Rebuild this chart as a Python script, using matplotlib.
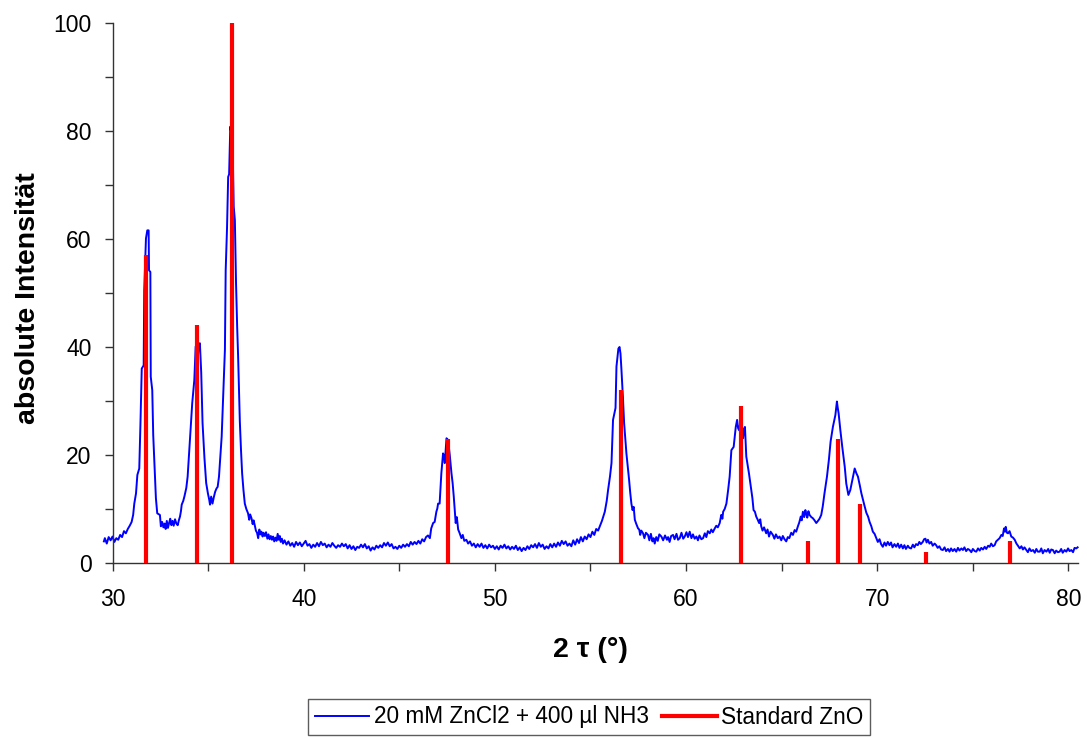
import matplotlib
matplotlib.use("Agg")
import matplotlib.pyplot as plt
from matplotlib.ticker import MultipleLocator

plt.rcParams['font.family'] = ['Liberation Sans', 'DejaVu Sans']

scan_30_39 = [
    (29.55, 4.0), (29.6, 4.6), (29.7, 3.6), (29.8, 4.8), (29.9, 4.2), (30.0, 4.9), (30.1, 3.9),
    (30.2, 4.6), (30.3, 4.3), (30.4, 5.2), (30.5, 4.8), (30.6, 5.9), (30.7, 5.5), (30.8, 6.3),
    (30.9, 6.9), (31.0, 7.6), (31.08, 8.9), (31.14, 11.0), (31.23, 12.9), (31.30, 16.3),
    (31.40, 17.5), (31.46, 25.5), (31.53, 36.0), (31.63, 36.6), (31.66, 50.5), (31.75, 60.1),
    (31.82, 61.6), (31.89, 61.6), (31.91, 54.2), (31.98, 53.9), (32.0, 34.5), (32.08, 32.0),
    (32.13, 23.7), (32.22, 16.0), (32.27, 12.0), (32.34, 9.2), (32.48, 8.9), (32.53, 6.8),
    (32.6, 7.6), (32.66, 6.6), (32.72, 7.3), (32.78, 6.3), (32.84, 7.8), (32.9, 6.5),
    (32.96, 7.4), (33.02, 8.2), (33.08, 7.0), (33.14, 7.8), (33.2, 6.9), (33.27, 8.1),
    (33.34, 7.3), (33.41, 7.0), (33.47, 7.9), (33.53, 8.6), (33.58, 9.6), (33.62, 10.8),
    (33.7, 11.5), (33.76, 12.3), (33.86, 13.9), (33.93, 16.0), (34.0, 20.0), (34.1, 25.9),
    (34.17, 29.6), (34.28, 33.9), (34.35, 40.1), (34.42, 35.0), (34.5, 40.5), (34.57, 40.7),
    (34.64, 35.3), (34.71, 25.9), (34.81, 19.4), (34.9, 14.8), (34.99, 12.9), (35.06, 11.7),
    (35.1, 10.8), (35.16, 12.3), (35.23, 11.0), (35.3, 12.2), (35.37, 13.2), (35.44, 13.8),
    (35.5, 14.1), (35.57, 16.0), (35.64, 19.7), (35.71, 23.4), (35.79, 30.8), (35.88, 39.5),
    (35.92, 54.2), (35.99, 62.0), (36.05, 71.5), (36.1, 72.0), (36.16, 80.8), (36.22, 79.5),
    (36.28, 77.7), (36.34, 66.0), (36.4, 63.5), (36.46, 52.0), (36.52, 43.8), (36.57, 38.3),
    (36.66, 26.2), (36.72, 21.0), (36.78, 16.6), (36.85, 13.5), (36.92, 11.0), (37.0, 10.0),
    (37.09, 9.2), (37.15, 8.0), (37.2, 9.0), (37.27, 8.3), (37.33, 7.2), (37.38, 7.9),
    (37.44, 7.0), (37.5, 6.0), (37.56, 5.6), (37.62, 4.6), (37.68, 6.2), (37.74, 5.3),
    (37.79, 5.8), (37.85, 4.9), (37.9, 5.6), (37.97, 5.0), (38.03, 5.7), (38.1, 4.5),
    (38.16, 5.3), (38.22, 4.4), (38.28, 5.0), (38.34, 4.3), (38.4, 4.9), (38.46, 4.0),
    (38.52, 4.7), (38.58, 4.1), (38.64, 5.4), (38.7, 4.3), (38.75, 5.0), (38.8, 3.9),
    (38.86, 4.5), (38.92, 3.6), (39.0, 4.2),
]
scan_39_47 = [
    (39.1, 3.4), (39.2, 4.0), (39.3, 3.2), (39.4, 3.7), (39.5, 3.0), (39.6, 3.9), (39.7, 3.3),
    (39.8, 3.8), (39.9, 3.1), (40.0, 3.6), (40.1, 4.1), (40.2, 3.2), (40.3, 3.5), (40.4, 2.8),
    (40.5, 3.4), (40.6, 3.0), (40.7, 3.7), (40.8, 3.1), (40.9, 3.9), (41.0, 3.3), (41.1, 3.6),
    (41.2, 2.9), (41.3, 3.4), (41.4, 3.0), (41.5, 3.7), (41.6, 3.2), (41.7, 2.8), (41.8, 3.3),
    (41.9, 3.0), (42.0, 3.6), (42.1, 3.1), (42.2, 3.5), (42.3, 2.7), (42.4, 3.3), (42.5, 2.6),
    (42.6, 3.1), (42.7, 2.4), (42.8, 3.0), (42.9, 2.8), (43.0, 3.4), (43.1, 2.9), (43.2, 3.5),
    (43.3, 2.7), (43.4, 3.1), (43.5, 2.3), (43.6, 2.9), (43.7, 2.5), (43.8, 3.2), (43.9, 2.8),
    (44.0, 3.3), (44.1, 2.9), (44.2, 3.7), (44.3, 3.2), (44.4, 3.8), (44.5, 3.1), (44.6, 3.5),
    (44.7, 2.7), (44.8, 3.0), (44.9, 2.6), (45.0, 3.2), (45.1, 2.8), (45.2, 3.4), (45.3, 3.0),
    (45.4, 3.5), (45.5, 3.1), (45.6, 3.9), (45.7, 3.4), (45.8, 3.9), (45.9, 3.5), (46.0, 4.1),
    (46.1, 3.6), (46.2, 4.4), (46.3, 4.0), (46.4, 4.8), (46.5, 5.1), (46.6, 4.6), (46.67, 6.4),
    (46.77, 7.4), (46.85, 7.6), (46.94, 9.5), (46.99, 10.1),
]
scan_47_57 = [
    (47.03, 11.0), (47.11, 11.0), (47.2, 16.6), (47.29, 20.3), (47.34, 19.8), (47.38, 18.5),
    (47.47, 23.1), (47.55, 22.8), (47.64, 20.0), (47.73, 16.6), (47.79, 14.8), (47.85, 12.3),
    (47.95, 7.4), (48.01, 8.5), (48.08, 6.2), (48.15, 5.6), (48.25, 4.6), (48.32, 5.2),
    (48.4, 4.1), (48.51, 4.3), (48.6, 3.6), (48.7, 4.0), (48.8, 3.2), (48.9, 3.6), (49.0, 2.9),
    (49.1, 3.5), (49.2, 3.0), (49.3, 3.6), (49.4, 2.8), (49.5, 3.3), (49.6, 2.7), (49.7, 3.4),
    (49.8, 2.9), (49.9, 3.2), (50.0, 2.6), (50.1, 3.1), (50.2, 2.5), (50.3, 3.2), (50.4, 2.8),
    (50.5, 3.4), (50.6, 2.7), (50.7, 3.1), (50.8, 2.5), (50.9, 3.0), (51.0, 2.6), (51.1, 3.2),
    (51.2, 2.4), (51.3, 2.9), (51.4, 2.2), (51.5, 2.8), (51.6, 2.4), (51.7, 3.1), (51.8, 2.6),
    (51.9, 3.3), (52.0, 2.9), (52.1, 3.5), (52.2, 2.8), (52.3, 3.7), (52.4, 3.0), (52.5, 3.4),
    (52.6, 2.6), (52.7, 3.1), (52.8, 2.7), (52.9, 3.5), (53.0, 2.9), (53.1, 3.6), (53.2, 3.0),
    (53.3, 3.8), (53.4, 3.2), (53.5, 4.1), (53.6, 3.5), (53.7, 4.0), (53.8, 3.2), (53.9, 3.6),
    (54.0, 3.1), (54.1, 4.2), (54.2, 3.4), (54.3, 4.4), (54.4, 3.7), (54.5, 4.8), (54.6, 4.0),
    (54.7, 4.9), (54.8, 4.4), (54.9, 5.3), (55.0, 4.8), (55.1, 5.8), (55.2, 5.2), (55.3, 6.3),
    (55.4, 6.0), (55.49, 6.8), (55.6, 7.8), (55.75, 9.5), (55.85, 11.5), (55.92, 13.5),
    (56.02, 16.0), (56.1, 18.5), (56.18, 26.5), (56.31, 28.7), (56.36, 36.4), (56.46, 39.7),
    (56.52, 40.0), (56.57, 38.8), (56.62, 35.8), (56.7, 30.5), (56.76, 25.9), (56.88, 20.3),
    (57.02, 15.4),
]
scan_57_66 = [
    (57.08, 13.0), (57.14, 11.0), (57.2, 9.8), (57.26, 10.4), (57.32, 8.0), (57.4, 7.2),
    (57.49, 6.4), (57.55, 6.2), (57.6, 5.2), (57.66, 6.0), (57.75, 5.5), (57.82, 4.6),
    (57.9, 5.6), (58.01, 5.2), (58.08, 4.2), (58.16, 5.4), (58.24, 4.0), (58.3, 4.6),
    (58.36, 3.6), (58.44, 4.8), (58.52, 4.1), (58.6, 5.3), (58.71, 4.9), (58.8, 4.2),
    (58.9, 5.1), (59.0, 4.3), (59.06, 4.8), (59.14, 3.9), (59.22, 5.0), (59.32, 5.2),
    (59.4, 4.4), (59.5, 5.4), (59.58, 4.3), (59.67, 4.6), (59.76, 5.6), (59.85, 4.5),
    (59.93, 4.9), (60.02, 5.7), (60.1, 4.8), (60.19, 5.8), (60.28, 4.6), (60.36, 5.3),
    (60.45, 4.5), (60.54, 4.9), (60.62, 4.2), (60.7, 5.1), (60.8, 4.4), (60.89, 4.6),
    (60.98, 5.5), (61.06, 4.8), (61.14, 5.9), (61.24, 5.5), (61.32, 6.2), (61.4, 5.7),
    (61.5, 6.4), (61.58, 6.9), (61.66, 6.6), (61.76, 7.4), (61.84, 8.9), (61.9, 8.2),
    (61.94, 9.5), (62.02, 10.0), (62.11, 11.0), (62.2, 13.5), (62.28, 16.0), (62.37, 20.9),
    (62.49, 21.5), (62.6, 25.2), (62.67, 26.5), (62.72, 25.0), (62.77, 24.6), (62.84, 26.0),
    (62.89, 24.9), (62.98, 23.1), (63.03, 24.9), (63.08, 25.2), (63.15, 19.7), (63.22, 18.2),
    (63.29, 16.6), (63.41, 13.5), (63.47, 12.0), (63.53, 9.8), (63.6, 9.5), (63.67, 8.6),
    (63.75, 8.0), (63.82, 7.4), (63.88, 8.1), (63.93, 6.8), (64.0, 6.0), (64.08, 6.6),
    (64.19, 5.5), (64.26, 6.2), (64.34, 4.9), (64.42, 5.8), (64.54, 5.2), (64.62, 4.5),
    (64.7, 5.3), (64.8, 4.6), (64.89, 4.9), (64.98, 4.2), (65.06, 5.0), (65.15, 4.4),
    (65.24, 4.0), (65.32, 4.8), (65.4, 4.6), (65.5, 5.6), (65.59, 5.2), (65.68, 6.1),
    (65.76, 5.8), (65.85, 6.8), (65.92, 7.5),
]
scan_66_70 = [
    (66.0, 8.6), (66.05, 7.9), (66.11, 9.5), (66.18, 8.5), (66.24, 9.8), (66.28, 9.2),
    (66.34, 8.4), (66.4, 9.6), (66.46, 8.9), (66.55, 8.5), (66.63, 8.3), (66.72, 7.9),
    (66.81, 7.4), (66.9, 7.8), (66.98, 8.2), (67.07, 8.9), (67.15, 10.5), (67.24, 12.9),
    (67.37, 16.0), (67.47, 19.1), (67.56, 22.5), (67.68, 25.2), (67.81, 27.4), (67.89, 29.9),
    (67.93, 28.8), (67.98, 27.7), (68.07, 24.6), (68.17, 21.5), (68.3, 17.8), (68.38, 14.7),
    (68.49, 12.6), (68.59, 13.5), (68.7, 15.4), (68.82, 17.5), (68.91, 16.6), (68.99, 16.0),
    (69.08, 14.5), (69.17, 12.9), (69.26, 11.6), (69.34, 10.5), (69.43, 9.3), (69.52, 8.6),
    (69.6, 7.6), (69.69, 6.8), (69.77, 5.8), (69.86, 5.4), (69.95, 4.6),
]
scan_70_81 = [
    (70.03, 3.9), (70.12, 4.4), (70.2, 3.5), (70.29, 3.0), (70.38, 3.8), (70.46, 3.2),
    (70.55, 3.9), (70.64, 3.3), (70.72, 3.8), (70.8, 2.9), (70.9, 3.5), (70.99, 3.0),
    (71.08, 3.6), (71.16, 2.8), (71.25, 3.4), (71.34, 2.7), (71.42, 3.3), (71.5, 2.6),
    (71.6, 3.2), (71.68, 2.8), (71.77, 2.7), (71.86, 3.4), (71.94, 2.9), (72.03, 3.5),
    (72.12, 3.3), (72.2, 3.9), (72.28, 3.5), (72.38, 3.9), (72.45, 4.4), (72.52, 4.5),
    (72.58, 3.8), (72.65, 4.3), (72.73, 3.6), (72.82, 3.9), (72.9, 3.2), (73.0, 3.6),
    (73.08, 3.3), (73.16, 2.8), (73.25, 3.1), (73.34, 2.5), (73.43, 2.4), (73.52, 2.9),
    (73.6, 2.2), (73.7, 2.6), (73.78, 2.1), (73.86, 2.7), (73.95, 2.2), (74.04, 2.6),
    (74.13, 2.1), (74.22, 2.8), (74.3, 2.3), (74.4, 2.7), (74.48, 2.4), (74.56, 2.9),
    (74.65, 2.2), (74.74, 2.6), (74.83, 2.4), (74.92, 2.0), (75.0, 2.6), (75.1, 2.2),
    (75.18, 2.1), (75.27, 2.7), (75.36, 2.3), (75.44, 2.8), (75.53, 2.5), (75.62, 3.0),
    (75.7, 2.6), (75.8, 3.2), (75.88, 3.0), (75.96, 3.6), (76.05, 3.1), (76.14, 3.3),
    (76.22, 4.0), (76.31, 4.3), (76.4, 4.6), (76.49, 5.2), (76.56, 5.0), (76.63, 6.4),
    (76.68, 5.8), (76.72, 6.7), (76.78, 5.6), (76.84, 5.5), (76.92, 5.9), (77.01, 4.9),
    (77.1, 4.7), (77.19, 4.3), (77.28, 3.6), (77.36, 3.2), (77.45, 2.7), (77.54, 3.1),
    (77.62, 2.5), (77.7, 2.9), (77.8, 2.4), (77.88, 2.0), (77.96, 2.7), (78.05, 2.2),
    (78.15, 2.4), (78.24, 1.9), (78.32, 2.6), (78.4, 2.1), (78.5, 2.1), (78.58, 2.7),
    (78.66, 1.8), (78.75, 2.4), (78.85, 2.1), (78.94, 2.6), (79.02, 1.9), (79.1, 2.5),
    (79.19, 2.4), (79.28, 1.8), (79.36, 2.3), (79.45, 2.0), (79.54, 2.1), (79.62, 2.6),
    (79.7, 1.9), (79.8, 2.4), (79.89, 2.1), (79.98, 2.7), (80.06, 2.2), (80.15, 2.4),
    (80.24, 2.0), (80.32, 2.8), (80.41, 2.7), (80.48, 2.9),
]

# ---- standard ZnO reference lines ----
std_2theta = [31.77, 34.42, 36.25, 47.54, 56.60, 62.86, 66.38, 67.96, 69.10, 72.56, 76.95]
std_intensity = [57, 44, 100, 23, 32, 29, 4, 23, 11, 2, 4]

series_sample = "20 mM ZnCl2 + 400 µl NH3"
series_standard = "Standard ZnO"
x_label = "2 τ (°)"
y_label = "absolute Intensität"

scan = scan_30_39 + scan_39_47 + scan_47_57 + scan_57_66 + scan_66_70 + scan_70_81
scan_x = [p[0] for p in scan]
scan_y = [p[1] for p in scan]

W, H = 1087, 738
fig = plt.figure(figsize=(W / 100, H / 100), dpi=100)
ax = fig.add_axes([112.5 / W, 1 - 563 / H, (1078 - 112.5) / W, (563 - 23) / H])

line_s, = ax.plot(scan_x, scan_y, color='#0000FF', lw=1.4, clip_on=False, zorder=2,
                  label=series_sample)
ax.vlines(std_2theta, 0, std_intensity, color='#FF0000', lw=3.0, zorder=3)
line_r, = ax.plot([], [], color='#FF0000', lw=3.0, label=series_standard)

ax.set_xlim(30, 80.5)
ax.set_ylim(0, 100)
ax.xaxis.set_major_locator(MultipleLocator(10))
ax.xaxis.set_minor_locator(MultipleLocator(5))
ax.yaxis.set_major_locator(MultipleLocator(20))
ax.yaxis.set_minor_locator(MultipleLocator(10))

for s in ('top', 'right'):
    ax.spines[s].set_visible(False)
for s in ('left', 'bottom'):
    ax.spines[s].set_color('#333333')
    ax.spines[s].set_linewidth(1.0)

ax.tick_params(axis='both', which='both', direction='out', length=6, width=1.0,
               color='#333333', labelsize=16.5)
ax.tick_params(axis='x', which='major', pad=12)
ax.tick_params(axis='y', which='major', pad=9)

fig.text(590 / W, 1 - 650 / H, x_label, ha='center', va='center',
         fontsize=20.5, fontweight='bold')
fig.text(28 / W, 1 - 298 / H, y_label, ha='center', va='center', rotation=90,
         fontsize=20.5, fontweight='bold')

leg = fig.legend(handles=[line_s, line_r], loc='center', ncol=2,
                 bbox_to_anchor=(589 / W, 1 - 717 / H), fontsize=16.3,
                 frameon=True, fancybox=False, handlelength=2.4, handletextpad=0.2,
                 columnspacing=0.6, borderpad=0.3)
leg.get_frame().set_edgecolor('#333333')
leg.get_frame().set_linewidth(1.0)

fig.savefig('out.png', dpi=100)
